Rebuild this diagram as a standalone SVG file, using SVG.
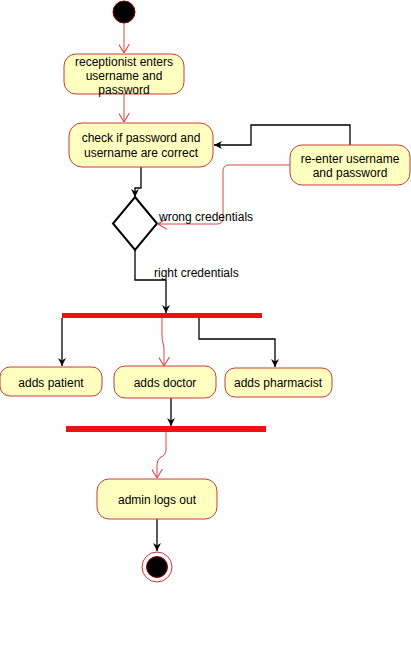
<svg xmlns="http://www.w3.org/2000/svg" width="411" height="664" viewBox="0 0 411 664">
<defs>
<style>
.node{fill:#ffffc0;stroke:#c83c3c;stroke-width:1}
.t{font-family:"Liberation Sans",Arial,sans-serif;font-size:12px;fill:#000;text-anchor:middle}
.lbl{font-family:"Liberation Sans",Arial,sans-serif;font-size:12px;fill:#000}
.blk{fill:none;stroke:#000;stroke-width:1.3}
.red{fill:none;stroke:#dd4444;stroke-width:1}
.bar{fill:#ee1111;stroke:none}
</style>
<marker id="fa" viewBox="0 0 10 10" refX="10" refY="5" markerWidth="8" markerHeight="8" markerUnits="userSpaceOnUse" orient="auto">
<path d="M0,0 L10,5 L0,10 L3,5 z" fill="#000"/>
</marker>
<marker id="oa" viewBox="0 0 10 12" refX="10" refY="6" markerWidth="9" markerHeight="11" markerUnits="userSpaceOnUse" orient="auto">
<path d="M0,0 L10,6 L0,12" fill="none" stroke="#dd4444" stroke-width="1.2"/>
</marker>
</defs>
<rect width="411" height="664" fill="#fff"/>
<g id="connectors">
<path class="red" d="M124,23 V53" marker-end="url(#oa)"/>
<path class="red" d="M124,94 V122" marker-end="url(#oa)"/>
<path class="blk" d="M141,167 V188 H135 V197" marker-end="url(#fa)"/>
<path class="blk" d="M350,145 V125 H251 V145 H214" marker-end="url(#fa)"/>
<path class="red" d="M290,165 H229 Q223,165 223,171 V218 Q223,224 217,224 H158" marker-end="url(#oa)"/>
<path class="blk" d="M135,250 V280 H166 V313" marker-end="url(#fa)"/>
<path class="blk" d="M62,318 V366" marker-end="url(#fa)"/>
<path class="red" d="M162,318 V336 Q162,340 163,343 Q164,346 164,350 V366" marker-end="url(#oa)"/>
<path class="blk" d="M199,318 V339 H275 V367" marker-end="url(#fa)"/>
<path class="blk" d="M171,398 V426" marker-end="url(#fa)"/>
<path class="red" d="M166,432 V450 Q166,455 161,457 Q157,459 157,465 V478" marker-end="url(#oa)"/>
<path class="blk" d="M157,519 V551" marker-end="url(#fa)"/>
</g>
<g id="start"><circle cx="124" cy="12" r="11" fill="#000" stroke="#990000" stroke-width="1"/></g>
<g id="n1"><rect class="node" x="64" y="54" width="120" height="40" rx="12"/>
<text class="t" x="124" y="66">receptionist enters</text><text class="t" x="124" y="80">username and</text><text class="t" x="124" y="94">password</text></g>
<g id="n2"><rect class="node" x="69" y="123" width="144" height="44" rx="13"/>
<text class="t" x="141" y="142">check if password and</text><text class="t" x="141" y="157">username are correct</text></g>
<g id="n3"><rect class="node" x="290" y="145" width="120" height="40" rx="12"/>
<text class="t" x="350" y="163">re-enter username</text><text class="t" x="350" y="177">and password</text></g>
<g id="decision"><path d="M135,197 L157,223.5 L135,250 L113,223.5 Z" fill="#fff" stroke="#000" stroke-width="2"/></g>
<g id="labels"><text class="lbl" x="159" y="221">wrong credentials</text><text class="lbl" x="154" y="277">right credentials</text></g>
<g id="fork"><rect class="bar" x="62" y="313" width="200" height="5"/></g>
<g id="patient"><rect class="node" x="0" y="367" width="102" height="29" rx="10"/><text class="t" x="51" y="387">adds patient</text></g>
<g id="doctor"><rect class="node" x="114" y="366" width="102" height="32" rx="11"/><text class="t" x="165" y="387">adds doctor</text></g>
<g id="pharmacist"><rect class="node" x="225" y="368" width="107" height="29" rx="10"/><text class="t" x="278" y="387">adds pharmacist</text></g>
<g id="join"><rect class="bar" x="66" y="426" width="200" height="6"/></g>
<g id="logout"><rect class="node" x="97" y="479" width="120" height="40" rx="12"/><text class="t" x="157" y="504">admin logs out</text></g>
<g id="end"><circle cx="157" cy="567" r="15" fill="#fff" stroke="#cc3333" stroke-width="1"/><circle cx="157" cy="567" r="10.5" fill="#000" stroke="#990000" stroke-width="1"/></g>
</svg>
